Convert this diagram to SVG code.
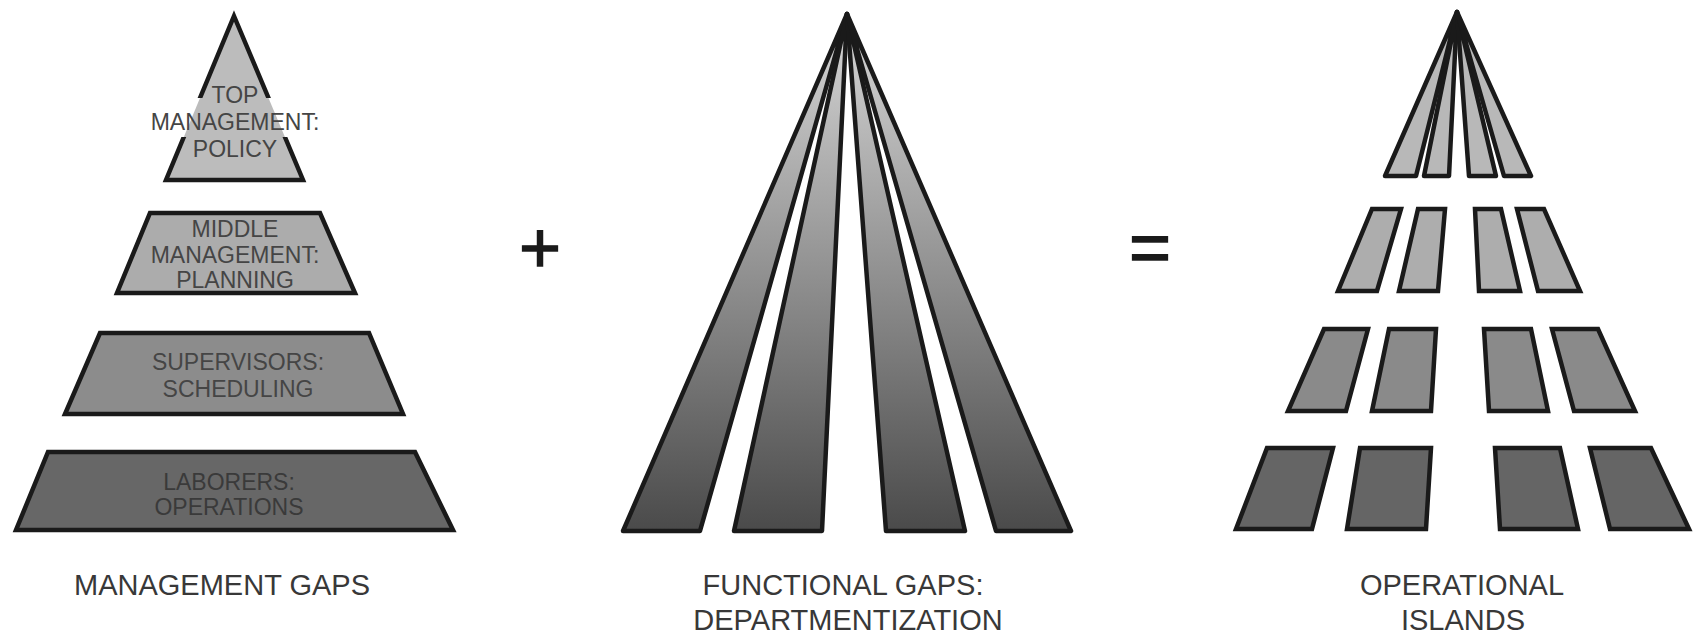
<svg xmlns="http://www.w3.org/2000/svg" width="1698" height="633" viewBox="0 0 1698 633">
<style>
.sh{stroke:#1a1a1a;stroke-width:4.5;stroke-linejoin:miter;stroke-miterlimit:20}
.fn{stroke:#1a1a1a;stroke-width:4.5;stroke-linejoin:round}
.in{font-family:"Liberation Sans",Arial,sans-serif;font-size:23px;fill:#454545;text-anchor:middle}
.lb{font-family:"Liberation Sans",Arial,sans-serif;font-size:29px;fill:#383838;text-anchor:middle}
.op{font-family:"Liberation Sans",Arial,sans-serif;font-size:72px;fill:#1a1a1a;stroke:#1a1a1a;stroke-width:1.3;text-anchor:middle}
.f1{fill:#bcbcbc}.f2{fill:#acacac}.f3{fill:#8c8c8c}.f4{fill:#676767}
</style>
<defs>
<linearGradient id="fanGrad" gradientUnits="userSpaceOnUse" x1="0" y1="13" x2="0" y2="532">
<stop offset="0" stop-color="#d8d8d8"/>
<stop offset="1" stop-color="#4a4a4a"/>
</linearGradient>
<mask id="topMask" maskUnits="userSpaceOnUse" x="0" y="0" width="600" height="300">
<rect x="0" y="0" width="600" height="300" fill="#fff"/>
<rect x="140" y="98" width="200" height="39" fill="#000"/>
</mask>
</defs>

<g id="management-gaps">
<g id="top-management">
<polygon class="f1" points="234,16 303,180 166,180"/>
<polygon class="sh" fill="none" points="234,16 303,180 166,180" mask="url(#topMask)"/>
<text class="in" x="235" y="103">TOP</text>
<text class="in" x="235" y="130">MANAGEMENT:</text>
<text class="in" x="235" y="157">POLICY</text>
</g>
<g id="middle-management">
<polygon class="sh f2" points="150,213 320,213 355,293 117,293"/>
<text class="in" x="235" y="237">MIDDLE</text>
<text class="in" x="235" y="263">MANAGEMENT:</text>
<text class="in" x="235" y="288">PLANNING</text>
</g>
<g id="supervisors">
<polygon class="sh f3" points="100,333 369,333 403,414 65,414"/>
<text class="in" x="238" y="370">SUPERVISORS:</text>
<text class="in" x="238" y="397">SCHEDULING</text>
</g>
<g id="laborers">
<polygon class="sh f4" points="48,452 415,452 453,530 16,530"/>
<text class="in" x="229" y="490" fill="#3a3a3a" style="fill:#3a3a3a">LABORERS:</text>
<text class="in" x="229" y="515" style="fill:#3a3a3a">OPERATIONS</text>
</g>
<text class="lb" x="222" y="595">MANAGEMENT GAPS</text>
</g>

<g id="plus"><text class="op" x="540" y="272">+</text></g>

<g id="functional-gaps">
<g fill="url(#fanGrad)">
<polygon class="fn" points="847,14 700,531 623,531"/>
<polygon class="fn" points="847,14 822,531 734,531"/>
<polygon class="fn" points="847,14 965,531 886,531"/>
<polygon class="fn" points="847,14 1071,531 996,531"/>
</g>
<text class="lb" x="843" y="595">FUNCTIONAL GAPS:</text>
<text class="lb" x="848" y="630">DEPARTMENTIZATION</text>
</g>

<g id="equals"><text class="op" x="1150" y="272">=</text></g>

<g id="operational-islands">
<g id="islands-row1" fill="#b8b8b8">
<polygon class="fn" points="1457,12 1416,176 1385,176"/>
<polygon class="fn" points="1457,12 1449,176 1424,176"/>
<polygon class="fn" points="1457,12 1496,176 1469,176"/>
<polygon class="fn" points="1457,12 1531,176 1504,176"/>
</g>
<g id="islands-row2" fill="#adadad">
<polygon class="sh" points="1372,209 1401,209 1377,291 1338,291"/>
<polygon class="sh" points="1418,209 1445,209 1438,291 1399,291"/>
<polygon class="sh" points="1475,209 1501,209 1520,291 1479,291"/>
<polygon class="sh" points="1517,209 1544,209 1580,291 1538,291"/>
</g>
<g id="islands-row3" fill="#8a8a8a">
<polygon class="sh" points="1324,329 1368,329 1346,411 1288,411"/>
<polygon class="sh" points="1389,329 1436,329 1431,411 1372,411"/>
<polygon class="sh" points="1484,329 1531,329 1548,411 1489,411"/>
<polygon class="sh" points="1552,329 1598,329 1635,411 1574,411"/>
</g>
<g id="islands-row4" fill="#656565">
<polygon class="sh" points="1267,448 1333,448 1312,529 1236,529"/>
<polygon class="sh" points="1360,448 1431,448 1426,529 1347,529"/>
<polygon class="sh" points="1495,448 1560,448 1578,529 1500,529"/>
<polygon class="sh" points="1590,448 1651,448 1689,529 1610,529"/>
</g>
<text class="lb" x="1462" y="595">OPERATIONAL</text>
<text class="lb" x="1463" y="630">ISLANDS</text>
</g>
</svg>
